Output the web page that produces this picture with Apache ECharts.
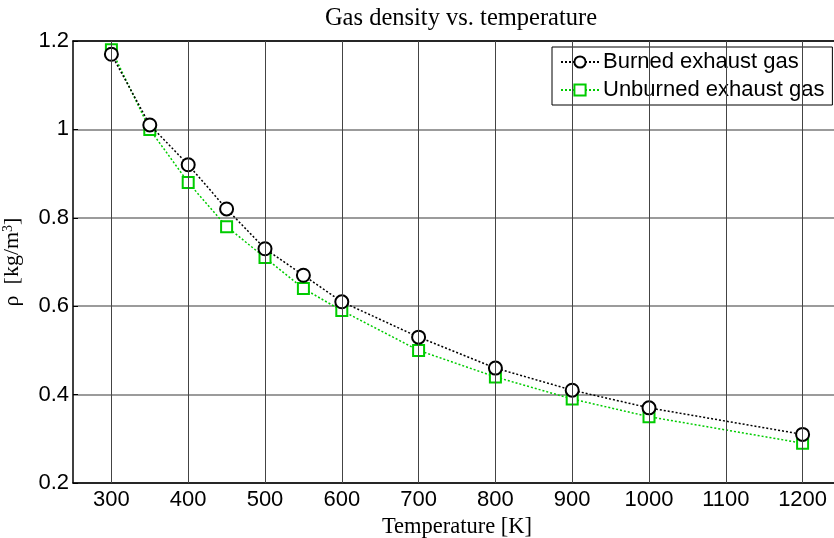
<!DOCTYPE html>
<html><head><meta charset="utf-8">
<script src="https://cdn.jsdelivr.net/npm/echarts@6/dist/echarts.min.js"></script>
<style>html,body{margin:0;padding:0;background:#fff}#c{width:834px;height:538px}</style>
</head><body><div id="c"></div>
<script>
const temps = [300, 350, 400, 450, 500, 550, 600, 700, 800, 900, 1000, 1200];
const burned = [1.17, 1.01, 0.92, 0.82, 0.73, 0.67, 0.61, 0.53, 0.46, 0.41, 0.37, 0.31];
const unburned = [1.18, 1.00, 0.88, 0.78, 0.71, 0.64, 0.59, 0.50, 0.44, 0.39, 0.35, 0.29];
const seriesNames = ['Burned exhaust gas', 'Unburned exhaust gas'];
const xTicks = [300, 400, 500, 600, 700, 800, 900, 1000, 1100, 1200];
const yTicks = [0.2, 0.4, 0.6, 0.8, 1, 1.2];

const chart = echarts.init(document.getElementById('c'));
const sans = 'Liberation Sans, Arial, sans-serif';
const serif = 'Liberation Serif, Times New Roman, serif';
const grid = {left: 73, top: 41, width: 768, height: 442, outerBoundsMode: 'none', containLabel: false};
chart.setOption({
  animation: false,
  backgroundColor: '#fff',
  title: {text: 'Gas density vs. temperature', left: 456, textAlign: 'center', top: 1,
    textStyle: {fontFamily: serif, fontSize: 24.5, fontWeight: 'normal', color: '#000'}},
  grid: grid,
  legend: {
    orient: 'vertical', left: 552, top: 47, padding: [4, 8, 4, 8], itemGap: 6,
    itemWidth: 38, itemHeight: 14,
    backgroundColor: '#fff', borderColor: '#000', borderWidth: 1, borderRadius: 0,
    textStyle: {fontFamily: sans, fontSize: 22, color: '#000', padding: [0,0,0,-1]},
    data: seriesNames
  },
  xAxis: [{
    type: 'value', min: 250, max: 1250, interval: 50,
    name: 'Temperature [K]', nameLocation: 'middle', nameGap: 28,
    nameTextStyle: {fontFamily: serif, fontSize: 22.5, color: '#000', verticalAlign: 'top'},
    axisLine: {lineStyle: {color: '#000', width: 1.5}},
    axisTick: {show: false},
    axisLabel: {fontFamily: sans, fontSize: 22, color: '#000', margin: 6,
      formatter: function(v){ return xTicks.indexOf(v) >= 0 ? String(v) : ''; }},
    splitLine: {show: false},
    showMinLabel: false, showMaxLabel: false
  }, {
    type: 'value', min: 250, max: 1250, position: 'top', axisLine: {show: true, onZero: false, lineStyle: {color: '#000', width: 1.5}},
    axisTick: {show: false}, axisLabel: {show: false}, splitLine: {show: false}
  }],
  yAxis: [{
    type: 'value', min: 0.2, max: 1.2, interval: 0.2,
    name: '{a|ρ  [kg/m}{s|3}{a|]}', nameLocation: 'middle', nameGap: 50, nameRotate: 90,
    nameTextStyle: {rich: {a: {fontFamily: serif, fontSize: 22, color: '#000'},
      s: {fontFamily: serif, fontSize: 14, color: '#000', verticalAlign: 'top', padding: [0,0,8,0]}}},
    axisLine: {show: true, lineStyle: {color: '#000', width: 1.5}},
    axisTick: {show: true, inside: true, length: 5, lineStyle: {color: '#000'}},
    axisLabel: {fontFamily: sans, fontSize: 22, color: '#000', margin: 4,
      formatter: function(v){ return String(Math.round(v*10)/10); }},
    splitLine: {show: true, lineStyle: {color: '#7a7a7a', width: 1.5}}
  }, {
    type: 'value', min: 0.2, max: 1.2, position: 'right', axisLine: {show: true, onZero: false, lineStyle: {color: '#000', width: 1.5}},
    axisTick: {show: false}, axisLabel: {show: false}, splitLine: {show: false}
  }],
  series: [{
    name: 'grid', type: 'line', data: [], z: 0, silent: true,
    markLine: {silent: true, symbol: 'none', animation: false,
      label: {show: false}, lineStyle: {color: '#444', width: 1, type: 'solid'},
      data: xTicks.map(v => ({xAxis: v}))}
  }, {
    name: seriesNames[0], type: 'line', data: temps.map((t, i) => [t, burned[i]]),
    symbol: 'emptyCircle', symbolSize: 13, z: 3,
    lineStyle: {color: '#000', width: 1.5, type: [2, 2]},
    itemStyle: {color: '#000', borderColor: '#000', borderWidth: 1.5}
  }, {
    name: seriesNames[1], type: 'line', data: temps.map((t, i) => [t, unburned[i]]),
    symbol: 'emptyRect', symbolSize: 11, z: 2,
    lineStyle: {color: '#00cc00', width: 1.5, type: [2, 2]},
    itemStyle: {color: '#00cc00', borderColor: '#00cc00', borderWidth: 1.5}
  }]
});
</script></body></html>
